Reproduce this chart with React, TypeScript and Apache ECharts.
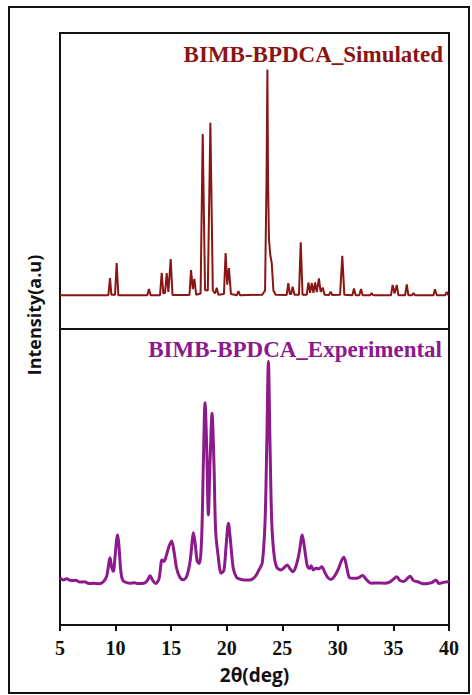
import React, { useEffect, useRef } from "react";
import * as echarts from "echarts";

// 2θ range and tick labels shared by both panels
const xTicks = [5, 10, 15, 20, 25, 30, 35, 40];

// Simulated powder pattern: [2θ, intensity]
const simulated: [number, number][] = [
  [5, 11.4], [9.35, 11.4], [9.5, 17.2], [9.62, 11.6], [9.95, 11.6], [10.1, 22.3], [10.25, 11.4],
  [12.85, 11.4], [13.0, 13.5], [13.15, 11.4],
  [14.0, 11.4], [14.15, 19.0], [14.3, 12.0], [14.45, 12.2], [14.6, 18.9], [14.75, 12.5], [14.96, 23.6], [15.12, 11.5],
  [16.65, 11.5], [16.79, 19.9], [16.95, 13.5], [17.09, 16.9], [17.25, 11.6],
  [17.65, 12], [17.84, 65.9], [18.05, 13.2], [18.3, 13], [18.53, 69.7], [18.75, 13], [18.95, 12], [19.1, 13.9], [19.25, 11.6],
  [19.75, 11.8], [19.9, 25.7], [20.05, 15], [20.2, 20.6], [20.38, 11.8],
  [20.9, 11.4], [21.05, 12.8], [21.2, 11.4],
  [23.2, 11.6], [23.45, 13], [23.58, 50], [23.66, 87.7], [23.72, 50], [23.8, 30.4], [23.92, 25], [24.05, 22.3], [24.2, 13], [24.4, 11.6],
  [25.4, 11.5], [25.54, 15.5], [25.68, 11.8], [25.8, 11.8], [25.93, 14.3], [26.1, 11.6],
  [26.5, 11.6], [26.66, 29.3], [26.82, 11.6],
  [27.2, 11.6], [27.35, 15.7], [27.5, 12.2], [27.65, 15.5], [27.8, 12.2], [27.95, 15.7], [28.1, 12.5], [28.3, 17.1], [28.45, 12.5], [28.64, 14], [28.8, 11.6],
  [29.2, 11.5], [29.35, 12.6], [29.5, 11.5],
  [30.2, 11.6], [30.4, 24.7], [30.58, 11.6],
  [31.3, 11.4], [31.45, 13.7], [31.6, 11.4], [31.93, 11.4], [32.08, 13.5], [32.23, 11.4],
  [32.9, 11.4], [33.04, 12.1], [33.18, 11.4],
  [34.78, 11.4], [34.93, 14.9], [35.1, 12], [35.3, 14.9], [35.45, 11.4],
  [36.05, 11.4], [36.2, 15.1], [36.35, 11.4], [36.65, 11.4], [36.8, 12.1], [36.95, 11.4],
  [38.6, 11.4], [38.74, 13.4], [38.9, 11.4],
  [39.65, 11.4], [39.8, 12.5], [39.95, 11.4], [40, 11.4],
];

// Measured powder pattern: [2θ, intensity]
const experimental: [number, number][] = [
  [5, 15.9], [5.3, 15.2], [5.6, 15.6], [6, 15.0], [6.4, 15.1], [6.8, 14.5], [7.2, 14.6], [7.6, 14.0], [8, 14.1], [8.5, 13.9], [8.9, 14.6],
  [9.2, 16.5], [9.4, 21], [9.5, 22.7], [9.65, 19.5], [9.8, 18.2], [9.95, 23], [10.1, 29], [10.19, 30.4], [10.3, 27], [10.45, 19], [10.6, 15.5],
  [10.8, 14.6], [11.3, 14.1], [11.7, 14.3], [12, 14.0], [12.6, 14.2], [12.85, 15], [13.1, 16.6], [13.35, 15], [13.6, 14],
  [13.9, 15.5], [14.05, 19.5], [14.15, 22], [14.35, 21.5], [14.54, 23.1], [14.8, 26.5], [15.05, 28.4], [15.25, 25], [15.5, 19], [15.8, 16],
  [16.1, 15.3], [16.4, 16.5], [16.7, 21.4], [16.9, 28.5], [17.0, 31.2], [17.15, 28], [17.35, 21.5], [17.55, 20.8],
  [17.75, 30], [17.9, 55], [18.05, 75.1], [18.2, 60], [18.35, 37.2], [18.5, 55], [18.68, 71.5], [18.85, 55], [19.0, 32], [19.2, 24.3],
  [19.5, 17.5], [19.75, 18.5], [19.95, 27], [20.15, 34.4], [20.35, 28], [20.6, 19], [20.9, 16],
  [21.3, 15.4], [21.8, 15.2], [22.2, 15.3], [22.6, 16.5], [22.9, 18.6],
  [23.2, 21], [23.45, 35], [23.6, 60], [23.75, 89], [23.9, 60], [24.05, 35], [24.25, 24], [24.5, 19.5],
  [24.9, 18.6], [25.2, 19.5], [25.45, 20.3], [25.7, 19], [25.95, 18], [26.2, 19.5], [26.5, 24], [26.8, 30.4], [27.0, 26], [27.25, 20],
  [27.45, 19.1], [27.6, 20], [27.8, 18.6], [28.05, 19.2], [28.3, 19], [28.55, 19.7], [28.8, 18], [29.1, 16], [29.4, 15.4],
  [29.7, 16.5], [30.0, 18.5], [30.3, 21.5], [30.55, 22.9], [30.8, 19.5], [31.05, 16], [31.4, 15.8], [31.8, 15.9], [32.23, 16.7],
  [32.6, 15.2], [33.0, 14.1], [33.6, 14.2], [34.2, 14.1], [34.7, 14.6], [35.0, 15.5], [35.3, 16.3], [35.6, 15], [35.9, 14.7],
  [36.2, 15.5], [36.5, 16.5], [36.8, 15], [37.2, 14.6], [37.7, 13.9], [38.2, 14.1], [38.5, 14.4], [38.83, 15.2], [39.1, 14],
  [39.5, 14.4], [39.9, 14.6], [40, 14.6],
];

const simColor = "#8b1414";
const expColor = "#8c1a8c";

export default function App() {
  const ref = useRef<HTMLDivElement>(null);

  useEffect(() => {
    if (!ref.current) return;
    const chart = echarts.init(ref.current, undefined, { renderer: "svg" });

    const hiddenX = {
      type: "value" as const,
      min: xTicks[0],
      max: xTicks[xTicks.length - 1],
      interval: 5,
      axisLine: { show: false },
      axisTick: { show: false },
      axisLabel: { show: false },
      splitLine: { show: false },
    };

    chart.setOption({
      animation: false,
      backgroundColor: "#ffffff",
      grid: [
        { left: 60, top: 33, width: 389, height: 296, show: true, borderColor: "#111", borderWidth: 2 },
        { left: 60, top: 329, width: 389, height: 296, show: true, borderColor: "#111", borderWidth: 2 },
      ],
      xAxis: [
        { ...hiddenX, gridIndex: 0 },
        {
          ...hiddenX,
          gridIndex: 1,
          axisLine: { show: true, lineStyle: { color: "#111", width: 2 } },
          axisTick: { show: true, length: 6, lineStyle: { color: "#111", width: 2 } },
          axisLabel: {
            show: true,
            margin: 13,
            color: "#111",
            fontFamily: "Liberation Serif",
            fontWeight: "bold",
            fontSize: 20,
            formatter: (v: number) => String(v),
          },
          name: "2θ(deg)",
          nameLocation: "middle",
          nameGap: 40,
          nameTextStyle: { color: "#111", fontFamily: "Open Sans", fontWeight: "bold", fontSize: 19 },
        },
      ],
      yAxis: [
        { type: "value", gridIndex: 0, min: 0, max: 100, show: false },
        { type: "value", gridIndex: 1, min: 0, max: 100, show: false },
      ],
      series: [
        {
          type: "line",
          xAxisIndex: 0,
          yAxisIndex: 0,
          data: simulated,
          showSymbol: false,
          lineStyle: { color: simColor, width: 2 },
        },
        {
          type: "line",
          xAxisIndex: 1,
          yAxisIndex: 1,
          data: experimental,
          showSymbol: false,
          smooth: 0.3,
          lineStyle: { color: expColor, width: 3 },
        },
      ],
      graphic: [
        {
          type: "rect",
          shape: { x: 9, y: 7, width: 460, height: 686 },
          style: { fill: "none", stroke: "#111", lineWidth: 2 },
          silent: true,
        },
        {
          type: "text",
          x: 443,
          y: 54,
          style: {
            text: "BIMB-BPDCA_Simulated",
            fill: simColor,
            fontFamily: "Liberation Serif",
            fontWeight: "bold",
            fontSize: 23,
            align: "right",
            verticalAlign: "middle",
          },
        },
        {
          type: "text",
          x: 442,
          y: 349,
          style: {
            text: "BIMB-BPDCA_Experimental",
            fill: expColor,
            fontFamily: "Liberation Serif",
            fontWeight: "bold",
            fontSize: 23,
            align: "right",
            verticalAlign: "middle",
          },
        },
        {
          type: "text",
          x: 34,
          y: 315,
          rotation: Math.PI / 2,
          style: {
            text: "Intensity(a.u)",
            fill: "#111",
            fontFamily: "Open Sans",
            fontWeight: "bold",
            fontSize: 18,
            align: "center",
            verticalAlign: "middle",
          },
        },
      ],
    });

    return () => chart.dispose();
  }, []);

  return (
    <div
      ref={ref}
      style={{ position: "absolute", left: 0, top: 0, width: 472, height: 695, background: "#fff" }}
    />
  );
}
